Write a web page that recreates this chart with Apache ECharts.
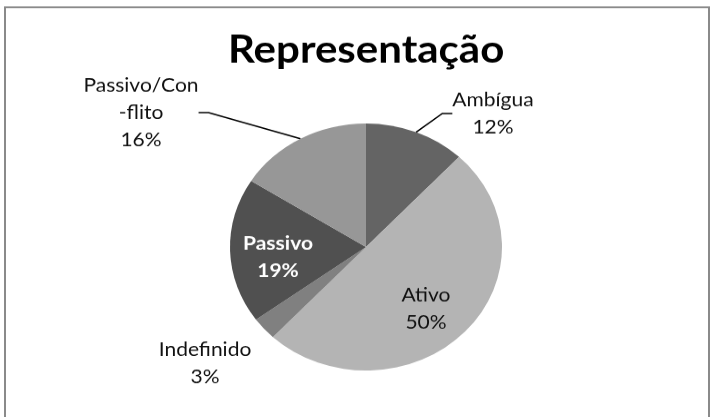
<!DOCTYPE html>
<html>
<head>
<meta charset="utf-8">
<script src="https://cdn.jsdelivr.net/npm/echarts@6/dist/echarts.min.js"></script>
<style>
  html, body { margin:0; padding:0; background:#fff; overflow:hidden; }
  /* o gráfico original está achatado na vertical: desenha-se alto e comprime-se */
  #chart { width:715px; height:459px; transform:scaleY(0.908); transform-origin:0 0; }
</style>
</head>
<body>
<div id="chart"></div>
<script>
// dados (percentagens)
var categorias = ['Ambígua', 'Ativo', 'Indefinido', 'Passivo', 'Passivo/Con-flito'];
var valores    = [12, 50, 3, 19, 16];
var cores      = ['#646464', '#b4b4b4', '#808080', '#505050', '#979797'];

// onde fica cada rótulo (px, antes da compressão vertical)
var posRotulo = [[493,125],[426,340],[205,400],[278,283],[141,124]];
var comLinha  = [true, false, false, false, true];

var chart = echarts.init(document.getElementById('chart'));

var dados = categorias.map(function(c, i){
  return {
    name: c, value: valores[i],
    itemStyle: { color: cores[i] },
    label: c === 'Passivo' ? { color:'#fff', fontWeight:'bold' } : {},
    labelLine: { show: comLinha[i] }
  };
});

chart.setOption({
  animation: false,
  backgroundColor: '#fff',
  title: {
    text: 'Representação',
    left: 228, top: 34,
    padding: 0,
    textStyle: { fontFamily:'Lato', fontWeight:'bold', fontSize:42, color:'#000' }
  },
  graphic: [{
    type:'rect', silent:true,
    shape:{ x:5, y:8, width:704, height:520 },
    style:{ fill:'none', stroke:'#8a8a8a', lineWidth:2 }
  }],
  series: [{
    type: 'pie',
    center: [366, 272], radius: 136,
    startAngle: 90, clockwise: true,
    data: dados,
    label: {
      show: true, position: 'outside',
      fontFamily: 'Lato', fontSize: 21, lineHeight: 30, color: '#111',
      align: 'center',
      formatter: function(p){ return p.name.replace('/Con-', '/Con\n-') + '\n' + p.value + '%'; }
    },
    labelLine: { show: true, length: 10, length2: 10, lineStyle: { color:'#000', width:1.5 } },
    labelLayout: function(p){
      var q = posRotulo[p.dataIndex];
      return { x: q[0], y: q[1], align: 'center', verticalAlign: 'middle' };
    },
    emphasis: { disabled: true }
  }]
});
</script>
</body>
</html>
